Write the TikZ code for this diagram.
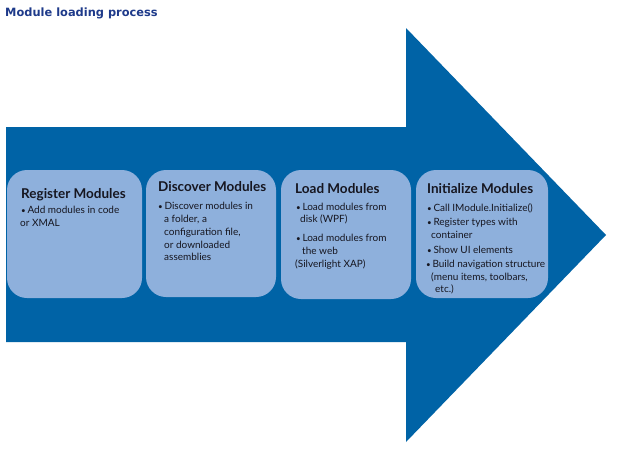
\documentclass[tikz,border=0pt]{standalone}
\usepackage{fontspec}
\setmainfont{Lato}
\newfontfamily\titlefont{DejaVu Sans}
\definecolor{arrowblue}{RGB}{0,99,166}
\definecolor{boxblue}{RGB}{142,176,220}
\definecolor{titleblue}{RGB}{30,58,138}
\definecolor{textdark}{RGB}{22,22,32}
\newcommand{\bul}{{\fontsize{8}{8}\selectfont•}\,}
\begin{document}
\begin{tikzpicture}[x=1pt,y=-1pt,
  stage/.style={fill=boxblue, rounded corners=20pt, inner sep=0pt},
  head/.style={anchor=base west, inner sep=0pt, font=\fontsize{13.5}{14}\selectfont\bfseries, text=textdark},
  bodytext/.style={anchor=base west, inner sep=0pt, font=\fontsize{10}{12}\selectfont, text=textdark}]
\useasboundingbox (0,0) rectangle (626,455);
\fill[white] (0,0) rectangle (626,455);
% title
\node[anchor=base west, inner sep=0pt, font=\titlefont\bfseries\fontsize{11.4}{13}\selectfont, text=titleblue] (title) at (5,16.5) {Module loading process};
% big arrow
\fill[arrowblue] (6,127) -- (406,127) -- (406,28) -- (606,235) -- (406,442) -- (406,342) -- (6,342) -- cycle;
% stage boxes
\node[stage, minimum width=135pt, minimum height=128pt] (box1) at (74.5,234) {};
\node[stage, minimum width=130pt, minimum height=127pt] (box2) at (211,233.5) {};
\node[stage, minimum width=130pt, minimum height=129pt] (box3) at (346,234.5) {};
\node[stage, minimum width=132pt, minimum height=128pt] (box4) at (482,234) {};
% box 1
\node[head] (h1) at (21,198) {Register Modules};
\node[bodytext] (b1a) at (21,213.5) {\bul Add modules in code};
\node[bodytext] (b1b) at (20,226.5) {or XMAL};
% box 2
\node[head] (h2) at (158,191) {Discover Modules};
\node[bodytext] (b2a) at (158,209.5) {\bul Discover modules in};
\node[bodytext] (b2b) at (164,222) {a folder, a};
\node[bodytext] (b2c) at (164,235) {configuration file,};
\node[bodytext] (b2d) at (164,248) {or downloaded};
\node[bodytext] (b2e) at (164,260.5) {assemblies};
% box 3
\node[head] (h3) at (295,193) {Load Modules};
\node[bodytext] (b3a) at (296,210.5) {\bul Load modules from};
\node[bodytext] (b3b) at (300,222) {disk (WPF)};
\node[bodytext] (b3c) at (296,241.5) {\bul Load modules from};
\node[bodytext] (b3d) at (302,254) {the web};
\node[bodytext] (b3e) at (295,267.5) {(Silverlight XAP)};
% box 4
\node[head] (h4) at (427,193) {Initialize Modules};
\node[bodytext] (b4a) at (427,211.5) {\bul Call IModule.Initialize()};
\node[bodytext] (b4b) at (427,225.5) {\bul Register types with};
\node[bodytext] (b4c) at (431,238.5) {container};
\node[bodytext] (b4d) at (427,253.5) {\bul Show UI elements};
\node[bodytext] (b4e) at (426,267.5) {\bul Build navigation structure};
\node[bodytext] (b4f) at (431,280.5) {(menu items, toolbars,};
\node[bodytext] (b4g) at (435,292.5) {etc.)};
\end{tikzpicture}
\end{document}
